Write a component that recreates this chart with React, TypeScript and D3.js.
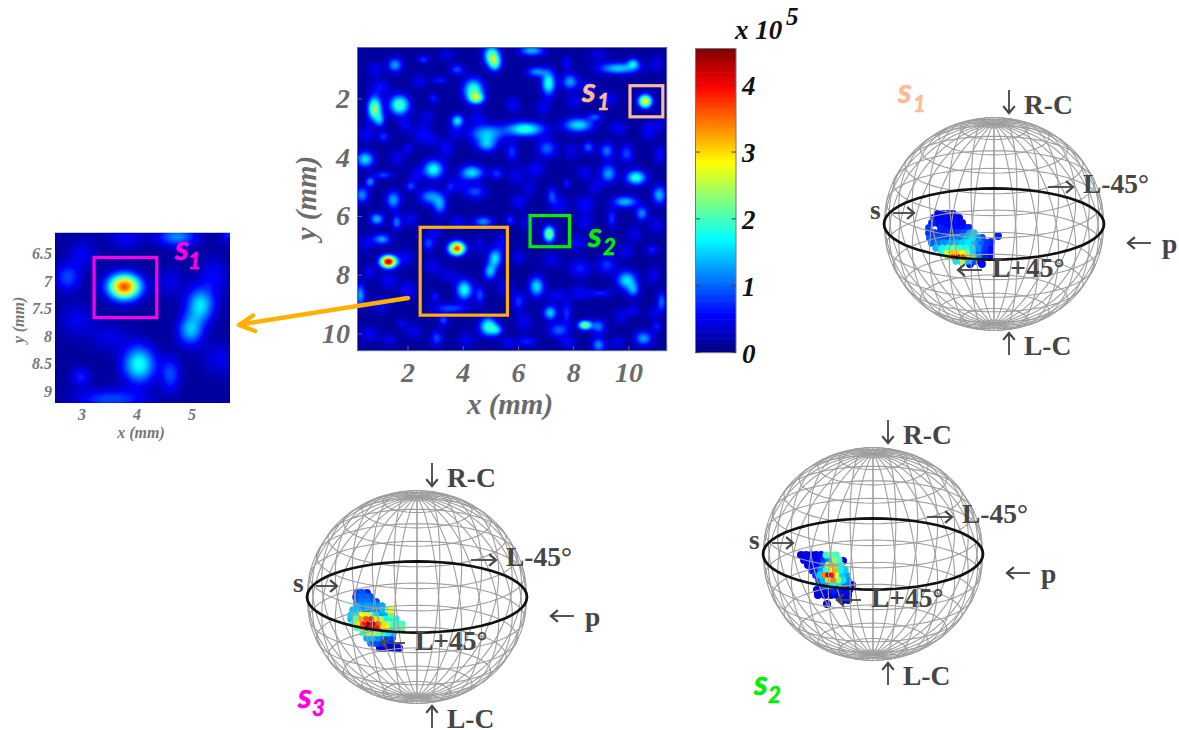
import React, { useMemo } from "react";
import * as d3 from "d3";

// Heat-map hot spots: [x mm, y mm, amplitude (x 10^5), spread x mm, spread y mm]
const spots: number[][] = [
  [5.03,.51,1.9,.13,.15],[5.15,.79,1.5,.1,.12],[6.48,.36,1.3,.2,.08],[1.53,.85,1.2,.12,.11],[2.56,.66,.7,.1,.06],
  [3.77,1.0,.8,.12,.08],[4.37,1.7,1.9,.16,.17],[4.49,1.98,1.6,.12,.08],[7.09,1.47,1.8,.11,.18],[6.66,1.08,1.1,.16,.08],
  [7.87,1.42,1.2,.13,.12],[9.62,.96,1.4,.32,.09],[10.16,.79,1.2,.1,.08],[10.59,2.08,2.8,.11,.1],[.79,2.33,2.3,.11,.18],
  [.99,2.72,1.0,.08,.11],[1.69,2.21,2.0,.16,.15],[2.92,1.98,.6,.08,.08],[3.79,2.74,1.5,.1,.09],[4.85,3.18,1.3,.28,.14],
  [4.85,3.57,1.1,.16,.11],[6.24,3.03,1.8,.3,.11],[8.17,2.89,1.5,.24,.11],[8.78,2.61,.8,.12,.06],[1.11,3.29,.7,.1,.08],
  [.45,4.06,1.5,.14,.12],[2.92,4.4,1.7,.16,.14],[4.31,4.51,1.5,.19,.11],[2.02,3.69,.5,.08,.08],[3.16,1.36,.6,.12,.06],
  [7.03,3.69,.9,.16,.14],[5.76,3.8,.7,.1,.14],[8.53,3.65,.9,.1,.09],[9.2,3.77,1.0,.11,.12],[9.92,3.86,.8,.11,.14],
  [9.26,4.54,1.2,.13,.14],[10.26,4.68,1.8,.16,.11],[5.22,4.54,.7,.11,.09],[.63,4.82,1.1,.08,.08],[1.11,4.59,.8,.14,.06],
  [.33,5.27,1.1,.11,.12],[1.47,5.44,1.2,.12,.14],[2.1,4.97,.8,.08,.08],[2.8,5.33,1.1,.18,.12],[3.16,5.61,1.1,.11,.15],
  [3.53,4.99,.6,.08,.11],[4.43,5.16,.8,.18,.11],[7.21,5.3,.8,.08,.14],[7.75,4.88,.6,.06,.08],[9.86,5.5,1.3,.2,.09],
  [10.47,5.9,1.1,.1,.11],[11.1,5.27,1.3,.11,.14],[.87,6.09,1.3,.11,.09],[1.59,6.2,1.0,.08,.11],[1.05,6.78,1.2,.14,.08],
  [1.29,7.54,4.2,.13,.09],[2.74,6.92,.8,.1,.11],[3.77,7.09,3.6,.13,.1],[4.73,6.18,1.1,.16,.08],[5.7,6.12,.7,.08,.08],
  [5.15,7.43,1.5,.11,.14],[4.97,7.88,1.3,.1,.12],[7.11,6.6,2.3,.09,.12],[9.38,6.07,.7,.08,.14],[8.23,7.77,.6,.18,.14],
  [9.2,7.65,.7,.14,.14],[10.83,7.14,.6,.1,.08],[9.92,8.17,1.5,.16,.14],[10.16,8.51,1.0,.1,.11],[4.04,8.5,1.7,.13,.15],
  [4.61,8.68,.8,.08,.14],[2.98,8.73,.6,.08,.08],[3.53,9.13,.8,.28,.08],[6.66,8.39,1.5,.12,.15],[6.0,8.9,.7,.11,.14],
  [.27,8.68,1.2,.08,.17],[7.15,9.28,1.4,.11,.11],[7.75,9.3,.7,.08,.17],[7.45,9.87,.9,.16,.11],[8.41,9.7,2.3,.11,.07],
  [8.9,9.75,1.0,.11,.11],[8.9,10.38,1.1,.11,.11],[4.91,9.75,1.8,.14,.14],[5.22,9.87,1.0,.1,.08],[3.28,9.53,.8,.08,.09],
  [3.04,10.15,.8,.1,.12],[1.78,9.64,.4,.08,.08],[10.53,10.15,1.2,.14,.11],[11.19,8.9,.9,.08,.15],[11.01,9.75,.6,.08,.08],
  [6.3,10.26,.6,.16,.08],[7.75,.79,.5,.08,.11],[8.96,8.62,.6,.2,.06],[10.16,9.19,.5,.1,.08],
];
// Faint mottling of the background: [x mm, y mm, amplitude, spread x mm, spread y mm]
const haze: number[][] = [
  [1.0,1.6,.5,.16,.12],[2.5,3.2,.5,.14,.16],[3.4,3.7,.5,.12,.14],[6.6,4.4,.5,.16,.12],[6.0,5.5,.45,.14,.12],
  [8.4,5.6,.5,.16,.14],[5.4,6.9,.45,.12,.16],[8.1,6.9,.45,.16,.12],[6.0,7.4,.4,.12,.12],[9.3,2.0,.45,.14,.12],
  [2.1,6.1,.45,.12,.12],[2.0,8.5,.45,.16,.14],[1.0,9.0,.45,.16,.12],[.6,10.0,.45,.14,.12],[5.8,2.2,.45,.12,.14],
  [9.6,3.0,.45,.14,.12],[10.7,3.1,.5,.12,.14],[11.1,3.9,.5,.1,.14],[.5,3.2,.45,.12,.14],[8.5,1.6,.4,.12,.12],
  [6.9,2.3,.4,.14,.12],[3.8,6.2,.45,.14,.1],[.8,1.0,.4,.14,.12],[2.4,1.4,.4,.14,.12],[3.4,.5,.35,.14,.1],
  [8.9,.5,.35,.16,.1],[11.0,.8,.35,.12,.14],[11.1,2.9,.35,.1,.12],[1.9,2.9,.4,.12,.12],[2.9,3.4,.35,.12,.12],
  [1.6,4.0,.4,.14,.14],[3.7,3.1,.4,.12,.12],[5.9,4.6,.4,.12,.14],[7.9,3.8,.4,.12,.14],[8.4,4.5,.4,.14,.12],
  [7.5,5.6,.45,.14,.14],[6.3,6.2,.4,.12,.12],[8.4,6.2,.4,.14,.14],[8.8,5.0,.4,.12,.12],[10.2,6.6,.4,.14,.12],
  [11.0,6.3,.4,.12,.14],[9.9,7.2,.4,.14,.12],[10.9,8.0,.4,.12,.14],[.5,6.9,.4,.12,.14],[.6,7.9,.4,.12,.12],
  [1.9,7.4,.4,.14,.14],[1.3,8.2,.45,.14,.12],[2.9,7.7,.4,.14,.14],[3.5,8.0,.35,.16,.12],[4.6,7.0,.35,.12,.14],
  [5.5,8.4,.4,.14,.14],[3.0,6.5,.4,.12,.12],[7.2,7.5,.4,.16,.12],[8.2,8.6,.45,.16,.12],[7.4,8.7,.45,.16,.1],
  [9.7,9.4,.4,.14,.12],[6.2,9.6,.45,.14,.14],[2.2,9.9,.4,.14,.12],[1.3,10.2,.35,.14,.1],[4.1,10.2,.4,.14,.12],
  [5.6,10.3,.4,.12,.1],[9.6,10.3,.4,.12,.1],[7.8,10.3,.45,.14,.1],[10.9,9.3,.35,.12,.12],[2.3,4.6,.4,.12,.12],
  [3.9,4.9,.35,.12,.12],[6.4,5.0,.35,.12,.14],[4.5,2.6,.4,.14,.12],[2.7,2.6,.35,.14,.12],[8.0,2.1,.4,.14,.12],
];
const spreadFactor = 1.55;
const backgroundLevel = 0.13;
const colorMax = 4.55;

const mainXTicks = [2, 4, 6, 8, 10];
const mainYTicks = [2, 4, 6, 8, 10];
const insetXTicks = [3, 4, 5];
const insetYTicks = [6.5, 7, 7.5, 8, 8.5, 9];
const colorTicks = [0, 1, 2, 3, 4];

// Marked regions in mm: [x0, x1, y0, y1]
const regionS1 = [10.04, 11.23, 1.55, 2.61];
const regionS2 = [6.42, 7.85, 5.97, 7.03];
const regionZoom = [2.44, 5.6, 6.37, 9.36];
const regionInset = [3.22, 4.36, 6.56, 7.65];

// Scatter on the spheres: [horizontal, vertical (downward), value], sphere radius = 110 units
const scatterS1: number[][] = [
  [-56,-10,.5],[-51,-10,.6],[-46,-10,.5],[-41,-10,.5],
  [-60,-6,.6],[-55,-6,.5],[-50,-6,.6],[-45,-6,.5],[-40,-6,.6],[-35,-6,.5],
  [-62,-1,.7],[-56,-1,.6],[-50,-1,.6],[-44,-1,.5],[-38,-1,.6],[-32,-1,.5],
  [-65,4,.8],[-53,4,.7],[-47,4,.6],[-41,4,.6],[-35,4,.6],[-29,4,.6],[-25,4,.7],
  [-65,9,.8],[-60,9,.8],[-54,9,.7],[-48,9,.7],[-42,9,.8],[-36,9,.8],[-30,9,.9],[-24,9,1.3],[-20,9,1.5],
  [-64,14,.9],[-58,14,.9],[-52,14,.9],[-46,14,.9],[-40,14,1.1],[-34,14,1.1],[-28,14,1.4],[-22,14,1.6],[-16,14,1.2],[-12,14,.9],
  [-62,19,1.0],[-56,19,1.1],[-50,19,1.2],[-44,19,1.3],[-38,19,1.4],[-32,19,1.5],[-26,19,1.6],[-20,19,1.3],[-14,19,1.0],[-8,19,.8],
  [-58,24,1.4],[-52,24,1.7],[-46,24,2.0],[-40,24,2.2],[-34,24,1.9],[-28,24,1.8],[-22,24,1.6],[-16,24,1.2],[-10,24,.8],[-4,24,.6],
  [-52,29,1.8],[-47,29,2.6],[-42,29,3.1],[-37,29,3.0],[-32,29,2.8],[-27,29,2.2],[-22,29,1.5],[-16,29,1.0],[-10,29,.7],[-4,29,.6],
  [-46,33,2.2],[-41,33,3.6],[-36,33,4.2],[-31,33,3.8],[-26,33,3.0],[-21,33,2.0],[-16,33,1.2],[-10,33,.7],[-5,33,.6],
  [-38,37,1.6],[-32,37,2.5],[-26,37,1.4],[-20,37,.9],[-14,37,.6],[-24,40,.6],[-12,40,.6],
  [4,12,.7],[-3,18,.7],
];
const scatterS2: number[][] = [
  [-72,1,.4],[-67,1,.5],[-62,1,.4],[-57,1,.5],[-52,1,.6],[-47,1,1.9],[-42,1,2.1],[-37,1,2.0],
  [-69,6,.5],[-64,6,.4],[-59,6,.5],[-54,6,.5],[-49,6,.8],[-44,6,1.2],[-39,6,2.3],[-34,6,2.0],[-30,7,.5],
  [-65,11,.5],[-60,11,.6],[-55,11,.6],[-50,11,1.0],[-45,11,2.5],[-41,11,3.2],[-36,11,2.0],[-32,11,1.8],
  [-61,16,.6],[-56,16,.7],[-52,16,1.2],[-47,16,1.8],[-43,16,2.6],[-38,16,3.2],[-33,16,1.7],[-28,16,1.5],
  [-57,21,.8],[-53,21,1.5],[-49,21,3.4],[-45,21,4.2],[-41,21,3.9],[-37,21,2.7],[-32,21,1.5],[-27,21,1.3],
  [-54,26,.9],[-50,26,1.4],[-45,26,3.0],[-40,26,3.4],[-35,26,2.4],[-30,26,1.6],[-25,26,1.2],
  [-50,31,1.0],[-45,31,1.3],[-40,31,1.8],[-35,31,1.6],[-30,31,1.1],[-25,31,.9],[-21,31,.6],
  [-56,36,.4],[-49,36,.5],[-44,36,.6],[-39,36,.7],[-34,36,.6],[-29,36,.5],[-24,36,.5],
  [-55,41,.4],[-48,41,.4],[-42,41,.4],[-36,41,.5],[-31,41,.4],[-25,41,.4],
  [-30,46,.4],[-25,46,.4],[-46,50,.4],
];
const scatterS3: number[][] = [
  [-60,-4,.8],[-55,-4,.9],[-50,-4,.7],[-61,0,.9],[-56,0,1.0],[-51,0,1.0],[-47,0,.9],
  [-60,5,1.0],[-55,5,1.1],[-50,5,1.1],[-45,5,1.0],[-41,5,.9],
  [-60,9,1.3],[-55,9,1.2],[-50,9,1.3],[-45,9,1.2],[-40,9,1.2],[-35,9,1.3],
  [-64,13,1.4],[-59,13,1.4],[-54,13,1.2],[-49,13,1.2],[-44,13,1.2],[-39,13,1.2],[-34,13,1.4],[-29,13,2.3],[-26,13,2.8],
  [-66,18,1.5],[-61,18,1.6],[-56,18,2.8],[-51,18,2.6],[-46,18,2.4],[-41,18,1.5],[-36,18,1.2],[-31,18,1.3],[-26,18,2.2],
  [-66,22,1.4],[-61,22,2.0],[-56,22,3.2],[-51,22,3.6],[-46,22,3.8],[-41,22,3.0],[-36,22,2.4],[-31,22,1.7],[-26,22,1.7],[-21,22,1.8],
  [-64,27,2.0],[-59,27,3.0],[-54,27,3.9],[-49,27,4.4],[-44,27,4.2],[-39,27,3.6],[-34,27,3.0],[-29,27,2.4],[-24,27,1.9],[-19,27,1.9],[-15,27,2.0],
  [-60,31,2.0],[-55,31,3.2],[-50,31,4.4],[-45,31,4.3],[-40,31,3.9],[-35,31,3.0],[-30,31,2.8],[-25,31,1.9],[-20,31,2.0],[-15,31,2.1],
  [-54,36,1.9],[-49,36,2.3],[-44,36,2.4],[-39,36,2.2],[-34,36,1.9],[-29,36,1.6],[-24,36,1.3],
  [-50,41,1.3],[-45,41,1.4],[-40,41,1.2],[-35,41,1.0],[-30,41,.9],[-25,41,.8],
  [-46,46,1.0],[-41,46,.9],[-36,46,.7],[-31,46,.5],[-26,46,.5],
  [-37,51,.35],[-32,51,.4],[-27,51,.4],[-22,51,.4],[-18,51,.4],
];

const latitudes = d3.range(-84, 90, 12);
const longitudes = d3.range(0, 360, 12);
const elevation = 19.5;

const SERIF = "'Liberation Serif', serif";
const SANS = "Lato, 'Open Sans', sans-serif";
const INK = "#454545";
const GRAY = "#6b6b6b";
const ORANGE = "#ffb000";
const PEACH = "#f9bc97";
const GREEN = "#00ee00";
const MAGENTA = "#ff00e0";

function jet(t: number) {
  const c = (v: number) => Math.round(255 * Math.max(0, Math.min(1, v)));
  const r = 1.5 - Math.abs(4 * t - 3);
  const g = 1.5 - Math.abs(4 * t - 2);
  const b = 1.5 - Math.abs(4 * t - 1);
  return `rgb(${c(r)},${c(g)},${c(b)})`;
}

function fieldPaths(
  xs: d3.ScaleLinear<number, number>,
  ys: d3.ScaleLinear<number, number>,
  nx: number,
  ny: number
) {
  const [x0, x1] = xs.domain();
  const [y0, y1] = ys.domain();
  const values = new Float64Array(nx * ny).fill(backgroundLevel);
  for (const [bx, by, amp, s0, s1] of [...spots, ...haze]) {
    const sx = s0 * spreadFactor;
    const sy = s1 * spreadFactor;
    const i0 = Math.max(0, Math.floor(((bx - 4 * sx - x0) / (x1 - x0)) * nx));
    const i1 = Math.min(nx - 1, Math.ceil(((bx + 4 * sx - x0) / (x1 - x0)) * nx));
    const j0 = Math.max(0, Math.floor(((by - 4 * sy - y0) / (y1 - y0)) * ny));
    const j1 = Math.min(ny - 1, Math.ceil(((by + 4 * sy - y0) / (y1 - y0)) * ny));
    for (let j = j0; j <= j1; j++) {
      const y = y0 + ((j + 0.5) / ny) * (y1 - y0);
      for (let i = i0; i <= i1; i++) {
        const x = x0 + ((i + 0.5) / nx) * (x1 - x0);
        const dx = (x - bx) / sx;
        const dy = (y - by) / sy;
        values[j * nx + i] += amp * Math.exp(-0.5 * (dx * dx + dy * dy));
      }
    }
  }
  const thresholds = d3.range(backgroundLevel + 0.03, colorMax, 0.07);
  const contours = d3.contours().size([nx, ny]).smooth(true).thresholds(thresholds)(Array.from(values));
  const transform = d3.geoTransform({
    point(px: number, py: number) {
      (this as any).stream.point(
        xs(x0 + (px / nx) * (x1 - x0)),
        ys(y0 + (py / ny) * (y1 - y0))
      );
    },
  });
  const path = d3.geoPath(transform);
  return contours.map((c) => ({ d: path(c as any) || "", fill: jet(c.value / colorMax) }));
}

function HeatPlot({ xs, ys, nx, ny, blur }: any) {
  const paths = useMemo(() => fieldPaths(xs, ys, nx, ny), []);
  const [l, r] = xs.range();
  const [t, b] = ys.range();
  const id = `clip${nx}`;
  return (
    <g>
      <clipPath id={id}>
        <rect x={l} y={t} width={r - l} height={b - t} />
      </clipPath>
      <g clipPath={`url(#${id})`}>
        <g filter={`url(#blur${nx})`}>
          <rect x={l - 5} y={t - 5} width={r - l + 10} height={b - t + 10} fill={jet(backgroundLevel / colorMax)} />
          {paths.map((p, i) => (
            <path key={i} d={p.d} fill={p.fill} />
          ))}
        </g>
      </g>
      <filter id={`blur${nx}`} x="-5%" y="-5%" width="110%" height="110%">
        <feGaussianBlur stdDeviation={blur} />
      </filter>
    </g>
  );
}

function Region({ xs, ys, box, color }: any) {
  return (
    <rect
      x={xs(box[0])}
      y={ys(box[2])}
      width={xs(box[1]) - xs(box[0])}
      height={ys(box[3]) - ys(box[2])}
      fill="none"
      stroke={color}
      strokeWidth={3.2}
    />
  );
}

function Arrow({ x1, y1, x2, y2 }: any) {
  const a = Math.atan2(y2 - y1, x2 - x1);
  const h = 9;
  const p = (s: number) => `${x2 - h * Math.cos(a + s)},${y2 - h * Math.sin(a + s)}`;
  return (
    <g fill="none" stroke={INK} strokeWidth={1.8}>
      <line x1={x1} y1={y1} x2={x2} y2={y2} />
      <polyline points={`${p(0.7)} ${x2},${y2} ${p(-0.7)}`} strokeWidth={2.2} />
    </g>
  );
}

function Sphere({ cx, cy, points }: { cx: number; cy: number; points: number[][] }) {
  const sx = d3.scaleLinear().domain([-1, 1]).range([cx - 110, cx + 110]);
  const sy = d3.scaleLinear().domain([-1, 1]).range([cy - 106.5, cy + 106.5]);
  const u = d3.scaleLinear().domain([-110, 110]).range([cx - 110, cx + 110]);
  const v = d3.scaleLinear().domain([-110, 110]).range([cy - 110, cy + 110]);
  const radius = d3.scaleLinear().domain([0, 4.5]).range([4.2, 2.6]);
  const el = (elevation * Math.PI) / 180;
  const project = (lat: number, lon: number): [number, number] => {
    const a = (lat * Math.PI) / 180;
    const o = (lon * Math.PI) / 180;
    return [
      sx(Math.cos(a) * Math.sin(o)),
      sy(-(Math.sin(a) * Math.cos(el) - Math.cos(a) * Math.cos(o) * Math.sin(el))),
    ];
  };
  const line = d3.line();
  const parallel = (lat: number) => line(d3.range(0, 361, 6).map((o) => project(lat, o))) + "Z";
  const meridian = (lon: number) => line(d3.range(-90, 91, 4.5).map((a) => project(a, lon))) || "";
  const sorted = [...points].sort((a, b) => a[2] - b[2]);
  return (
    <g>
      {sorted.map((p, i) => (
        <circle key={i} cx={u(p[0])} cy={v(p[1])} r={radius(p[2])} fill={jet(p[2] / colorMax)} />
      ))}
      <g fill="none" stroke="#9e9e9e" strokeWidth={1.1}>
        {latitudes.map((a) => (
          <path key={a} d={parallel(a)} />
        ))}
        {longitudes.map((o) => (
          <path key={o} d={meridian(o)} />
        ))}
      </g>
      <path d={parallel(0)} fill="none" stroke="#111" strokeWidth={2.7} />
      <g fontFamily={SERIF} fontWeight={700} fontSize={27.5} fill={INK}>
        <text x={cx + 30} y={cy - 110}>R-C</text>
        <text x={cx + 30} y={cy + 131}>L-C</text>
        <text x={cx + 89} y={cy - 31}>L-45°</text>
        <text x={cx - 2} y={cy + 53}>L+45°</text>
        <text x={cx + 168} y={cy + 29}>p</text>
        <text x={cx - 124} y={cy - 5}>s</text>
      </g>
      <Arrow x1={cx + 15} y1={cy - 134} x2={cx + 15} y2={cy - 111} />
      <Arrow x1={cx + 15} y1={cy + 131} x2={cx + 15} y2={cy + 109} />
      <Arrow x1={cx + 54} y1={cy - 37} x2={cx + 79} y2={cy - 37} />
      <Arrow x1={cx + 157} y1={cy + 19} x2={cx + 134} y2={cy + 19} />
      <Arrow x1={cx - 101} y1={cy - 11} x2={cx - 80} y2={cy - 11} />
      <Arrow x1={cx - 12} y1={cy + 46} x2={cx - 36} y2={cy + 46} />
    </g>
  );
}

function SLabel({ x, y, sub, color, dx = 15, dy = 8 }: any) {
  return (
    <g fontFamily={SANS} fontWeight={700} fontStyle="italic" fill={color} stroke={color} strokeWidth={0.6}>
      <text x={x} y={y} fontSize={34}>s</text>
      <text x={x + dx} y={y + dy} fontSize={22}>{sub}</text>
    </g>
  );
}

export default function App() {
  const x = d3.scaleLinear().domain([0.17, 11.37]).range([357.5, 666.7]);
  const y = d3.scaleLinear().domain([0.25, 10.57]).range([47.5, 350.7]);
  const ix = d3.scaleLinear().domain([2.51, 5.69]).range([55, 230]);
  const iy = d3.scaleLinear().domain([6.11, 9.2]).range([232.7, 403]);
  const c = d3.scaleLinear().domain([0, colorMax]).range([352.5, 48.5]);
  const colorSteps = d3.range(0, 128).map((i) => (i / 128) * colorMax);
  const step = colorMax / 128;

  return (
    <svg
      width={1179}
      height={730}
      viewBox="0 0 1179 730"
      style={{ position: "absolute", left: 0, top: 0, display: "block", background: "#fff" }}
    >
      {/* Main map */}
      <HeatPlot xs={x} ys={y} nx={310} ny={304} blur={0.7} />
      <rect x={357.5} y={47.5} width={309.2} height={303.2} fill="none" stroke="#5c6a8c" strokeWidth={1} />
      <g stroke="#5c6a8c" strokeWidth={1}>
        {mainXTicks.map((t) => <line key={t} x1={x(t)} x2={x(t)} y1={350.7} y2={346} />)}
        {mainYTicks.map((t) => <line key={t} x1={357.5} x2={362} y1={y(t)} y2={y(t)} />)}
      </g>
      <g fontFamily={SERIF} fontWeight={700} fontStyle="italic" fontSize={28} fill={GRAY}>
        {mainXTicks.map((t) => <text key={t} x={x(t)} y={382} textAnchor="middle">{t}</text>)}
        {mainYTicks.map((t) => <text key={t} x={350} y={y(t) + 9} textAnchor="end">{t}</text>)}
        <text x={510} y={414} textAnchor="middle" fontSize={29}>x (mm)</text>
        <text transform="translate(316,198) rotate(-90)" textAnchor="middle" fontSize={29}>y (mm)</text>
      </g>
      <Region xs={x} ys={y} box={regionS1} color={PEACH} />
      <Region xs={x} ys={y} box={regionS2} color={GREEN} />
      <Region xs={x} ys={y} box={regionZoom} color={ORANGE} />
      <SLabel x={582} y={102} sub="1" color={PEACH} />
      <SLabel x={588} y={247} sub="2" color={GREEN} />

      {/* Colour bar */}
      {colorSteps.map((v) => (
        <rect key={v} x={695.5} width={40.5} y={c(v + step)} height={c(v) - c(v + step) + 0.6} fill={jet((v + step / 2) / colorMax)} />
      ))}
      <rect x={695.5} y={48.5} width={40.5} height={304} fill="none" stroke="#777" strokeWidth={1} />
      <g stroke="#444" strokeWidth={1}>
        {colorTicks.map((t) => (
          <g key={t}>
            <line x1={695.5} x2={700} y1={c(t)} y2={c(t)} />
            <line x1={731.5} x2={736} y1={c(t)} y2={c(t)} />
          </g>
        ))}
      </g>
      <g fontFamily={SERIF} fontWeight={700} fontStyle="italic" fill="#111" fontSize={27}>
        {colorTicks.map((t) => <text key={t} x={742} y={c(t) + 10}>{t}</text>)}
        <text x={735} y={39} fontSize={27}>x 10</text>
        <text x={786} y={25} fontSize={25}>5</text>
      </g>

      {/* Inset */}
      <HeatPlot xs={ix} ys={iy} nx={175} ny={170} blur={1.3} />
      <g fontFamily={SERIF} fontWeight={700} fontStyle="italic" fontSize={16} fill="#777">
        {insetXTicks.map((t) => <text key={t} x={ix(t)} y={420} textAnchor="middle">{t}</text>)}
        {insetYTicks.map((t) => <text key={t} x={52} y={iy(t) + 5} textAnchor="end">{t}</text>)}
        <text x={141} y={438} textAnchor="middle" fontSize={16}>x (mm)</text>
        <text transform="translate(24,320) rotate(-90)" textAnchor="middle" fontSize={16}>y (mm)</text>
      </g>
      <Region xs={ix} ys={iy} box={regionInset} color={MAGENTA} />
      <SLabel x={175} y={260} sub="1" color={MAGENTA} dx={13} dy={9} />

      {/* Arrow from the marked region to the inset */}
      <g fill="none" stroke={ORANGE} strokeWidth={4.5} strokeLinecap="round" strokeLinejoin="round">
        <line x1={408} y1={298} x2={240} y2={324.5} />
        <polyline points="253,315.5 239,325 255,331" />
      </g>

      {/* Spheres */}
      <Sphere cx={994} cy={224} points={scatterS1} />
      <Sphere cx={873} cy={554} points={scatterS2} />
      <Sphere cx={417} cy={597} points={scatterS3} />
      <SLabel x={898} y={103} sub="1" color={PEACH} dy={9} />
      <SLabel x={754} y={695} sub="2" color={GREEN} dx={14} />
      <SLabel x={298} y={708} sub="3" color={MAGENTA} dx={14} />
    </svg>
  );
}
